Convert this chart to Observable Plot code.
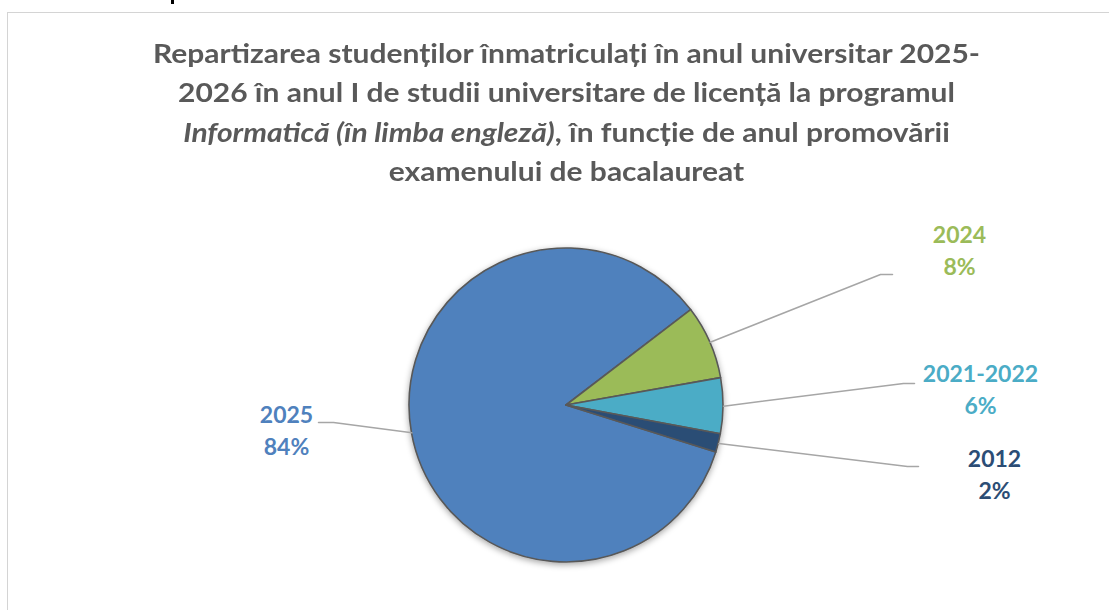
<!DOCTYPE html>
<html>
<head>
<meta charset="utf-8">
<script src="https://cdn.jsdelivr.net/npm/d3@7"></script>
<script src="https://cdn.jsdelivr.net/npm/@observablehq/plot@0.6"></script>
<style>
  html, body { margin: 0; padding: 0; background: #fff; overflow: hidden; }
  #page { position: relative; width: 1109px; height: 610px; overflow: hidden; background: #fff; }
  #frame { position: absolute; left: 7px; top: 12px; width: 1140px; height: 640px; border: 1px solid #d4d4d4; box-sizing: border-box; }
  #cut { position: absolute; left: 171px; top: 0; width: 3px; height: 4px; background: #000; }
  #title { position: absolute; left: 0; top: 33px; width: 1133px; text-align: center; color: #595959;
           font-family: Lato, sans-serif; font-weight: bold; font-size: 27px; transform-origin: 566.5px 0; }
  #title div { height: 39.3px; line-height: 39.3px; white-space: nowrap; }
  #title span.l { display: inline-block; }
  #chart { position: absolute; left: 0; top: 195px; }
</style>
</head>
<body>
<div id="page">
  <div id="frame"></div>
  <div id="cut"></div>
  <div id="title"></div>
  <div id="chart"></div>
</div>
<script>
// ---- data ----
const years = ["2025", "2024", "2021-2022", "2012"];
const students = [89, 8, 6, 2];
const percentLabels = ["84%", "8%", "6%", "2%"];
const colors = ["#4F81BD", "#9BBB59", "#4BACC6", "#2C4D75"];
const titleLines = [
  [["Repartizarea studenților înmatriculați în anul universitar 2025-", false]],
  [["2026 în anul I de studii universitare de licență la programul", false]],
  [["Informatică (în limba engleză)", true], [", în funcție de anul promovării", false]],
  [["examenului de bacalaureat", false]]
];

// ---- layout (pixels relative to pie centre, y up) ----
const R = 157;
const START = 107.4 * Math.PI / 180;
const labelAt = [[-280, -49], [393, 131], [414, -8], [428, -93]];
const elbowAt = [[-233, -17], [314, 131], [337, 22], [341, -61]];
const leaderEnd = [[-248, -17], [326, 131], [348, 22], [352, -61]];

// ---- title ----
const titleEl = document.getElementById("title");
titleLines.forEach(parts => {
  const line = document.createElement("div");
  const span = document.createElement("span");
  span.className = "l";
  parts.forEach(([t, it]) => {
    const s = document.createElement("span");
    s.textContent = t;
    if (it) s.style.fontStyle = "italic";
    span.appendChild(s);
  });
  line.appendChild(span);
  titleEl.appendChild(line);
});
const w1 = titleEl.querySelector("span.l").getBoundingClientRect().width;
titleEl.style.transform = `scaleX(${827 / w1})`;

// ---- chart ----
const rows = years.map((year, i) => ({year, students: students[i], pct: percentLabels[i]}));
const pie = d3.pie().sort(null).value(d => d.students).startAngle(START).endAngle(START + 2 * Math.PI);
const arcs = pie(rows);

const labels = rows.map((d, i) => ({year: d.year, text: `${d.year}\n${d.pct}`, x: labelAt[i][0], y: labelAt[i][1]}));
const leaders = arcs.flatMap((a, i) => {
  const m = (a.startAngle + a.endAngle) / 2;
  const year = a.data.year;
  return [
    {year, x: R * Math.sin(m), y: R * Math.cos(m)},
    {year, x: elbowAt[i][0], y: elbowAt[i][1]},
    {year, x: leaderEnd[i][0], y: leaderEnd[i][1]}
  ];
});

function pieMark(index, scales) {
  const cx = scales.x(0), cy = scales.y(0);
  const r = Math.abs(scales.x(R) - cx);
  const g = d3.create("svg:g");
  const f = g.append("defs").append("filter").attr("id", "pieShadow")
    .attr("x", "-20%").attr("y", "-20%").attr("width", "140%").attr("height", "140%");
  f.append("feDropShadow").attr("dx", 0).attr("dy", 2).attr("stdDeviation", 3)
    .attr("flood-color", "#000").attr("flood-opacity", 0.35);
  const arc = d3.arc().innerRadius(0).outerRadius(r);
  g.append("g").attr("transform", `translate(${cx},${cy})`).attr("filter", "url(#pieShadow)")
    .selectAll("path").data(arcs).join("path")
    .attr("d", arc)
    .attr("fill", d => scales.color(d.data.year))
    .attr("stroke", "#595959").attr("stroke-width", 1.6).attr("stroke-linejoin", "round");
  return g.node();
}

const W = 1109, H = 415, CX = 566, CY = 210;
const chart = Plot.plot({
  width: W, height: H,
  marginTop: 0, marginRight: 0, marginBottom: 0, marginLeft: 0,
  x: {domain: [-CX, W - CX], axis: null},
  y: {domain: [-(H - CY), CY], axis: null},
  color: {type: "ordinal", domain: years, range: colors},
  style: {fontFamily: "Lato, sans-serif", background: "transparent", overflow: "visible"},
  marks: [
    pieMark,
    Plot.line(leaders, {x: "x", y: "y", z: "year", stroke: "#A6A6A6", strokeWidth: 1.5, curve: "linear"}),
    Plot.text(labels, {x: "x", y: "y", text: "text", fill: "year", fontSize: 23, fontWeight: "bold",
                       lineAnchor: "bottom", lineHeight: 32 / 23, textAnchor: "middle"})
  ]
});
document.getElementById("chart").appendChild(chart);
</script>
</body>
</html>
